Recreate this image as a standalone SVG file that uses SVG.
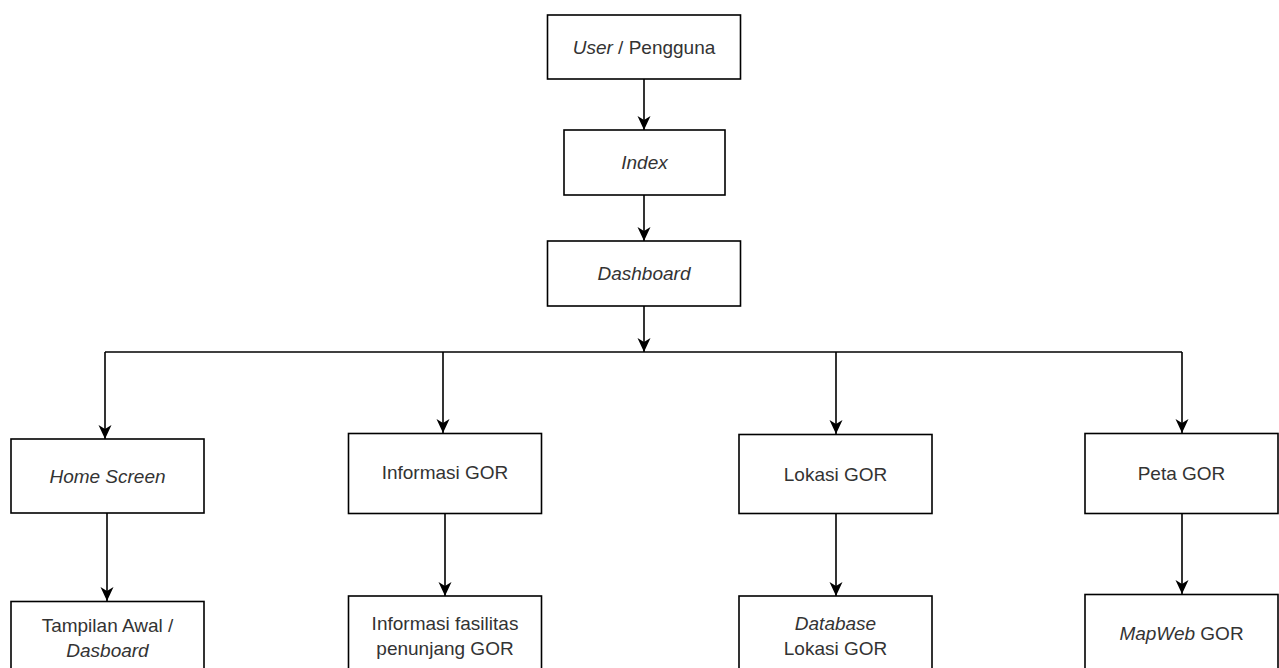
<svg xmlns="http://www.w3.org/2000/svg" width="1279" height="668" viewBox="0 0 1279 668">
<defs>
<style>
.box{fill:#fff;stroke:#000;stroke-width:1.6}
.t{font-family:"Liberation Sans",Arial,sans-serif;font-size:19px;fill:#333;text-anchor:middle}
.i{font-style:italic}
.c{fill:none;stroke:#000;stroke-width:1.6}
</style>
<marker id="arr" markerUnits="userSpaceOnUse" markerWidth="17" markerHeight="17" refX="15" refY="8.5" orient="auto">
<path d="M1,2 L15,8.5 L1,15 L5,8.5 z" fill="#000"/>
</marker>
</defs>
<rect width="1279" height="668" fill="#fff"/>
<g id="connectors">
<path class="c" d="M644,79 V130" marker-end="url(#arr)"/>
<path class="c" d="M644,195 V241" marker-end="url(#arr)"/>
<path class="c" d="M644,306 V352" marker-end="url(#arr)"/>
<path class="c" d="M105,352 H1182"/>
<path class="c" d="M105,352 V439" marker-end="url(#arr)"/>
<path class="c" d="M443,352 V433" marker-end="url(#arr)"/>
<path class="c" d="M836,352 V434" marker-end="url(#arr)"/>
<path class="c" d="M1182,352 V433" marker-end="url(#arr)"/>
<path class="c" d="M107,513 V601" marker-end="url(#arr)"/>
<path class="c" d="M445,513 V596" marker-end="url(#arr)"/>
<path class="c" d="M836,513 V596" marker-end="url(#arr)"/>
<path class="c" d="M1182,513 V594" marker-end="url(#arr)"/>
</g>
<g id="user"><rect class="box" x="547.5" y="15" width="193" height="64"/><text class="t" x="644" y="53.5"><tspan class="i">User</tspan> / Pengguna</text></g>
<g id="index"><rect class="box" x="564" y="130" width="161" height="65"/><text class="t i" x="644.5" y="168.5">Index</text></g>
<g id="dashboard"><rect class="box" x="547.5" y="241" width="193" height="65"/><text class="t i" x="644" y="279.5">Dashboard</text></g>
<g id="home"><rect class="box" x="11" y="439" width="193" height="74"/><text class="t i" x="107.5" y="482.5">Home Screen</text></g>
<g id="informasi"><rect class="box" x="348.5" y="433.5" width="193" height="80"/><text class="t" x="445" y="478.5">Informasi GOR</text></g>
<g id="lokasi"><rect class="box" x="739" y="434.5" width="193" height="79"/><text class="t" x="835.5" y="480.5">Lokasi GOR</text></g>
<g id="peta"><rect class="box" x="1085" y="433.5" width="193" height="80"/><text class="t" x="1181.5" y="479.5">Peta GOR</text></g>
<g id="tampilan"><rect class="box" x="11" y="601.5" width="193" height="80"/><text class="t" x="107.5" y="631.5">Tampilan Awal /</text><text class="t i" x="107.5" y="656.5">Dasboard</text></g>
<g id="fasilitas"><rect class="box" x="348.5" y="596" width="193" height="85"/><text class="t" x="445" y="629.5">Informasi fasilitas</text><text class="t" x="445" y="654.5">penunjang GOR</text></g>
<g id="database"><rect class="box" x="739" y="596" width="193" height="85"/><text class="t i" x="835.5" y="629.5">Database</text><text class="t" x="835.5" y="654.5">Lokasi GOR</text></g>
<g id="mapweb"><rect class="box" x="1085" y="594.5" width="193" height="86"/><text class="t" x="1181.5" y="639.5"><tspan class="i">MapWeb</tspan> GOR</text></g>
</svg>
